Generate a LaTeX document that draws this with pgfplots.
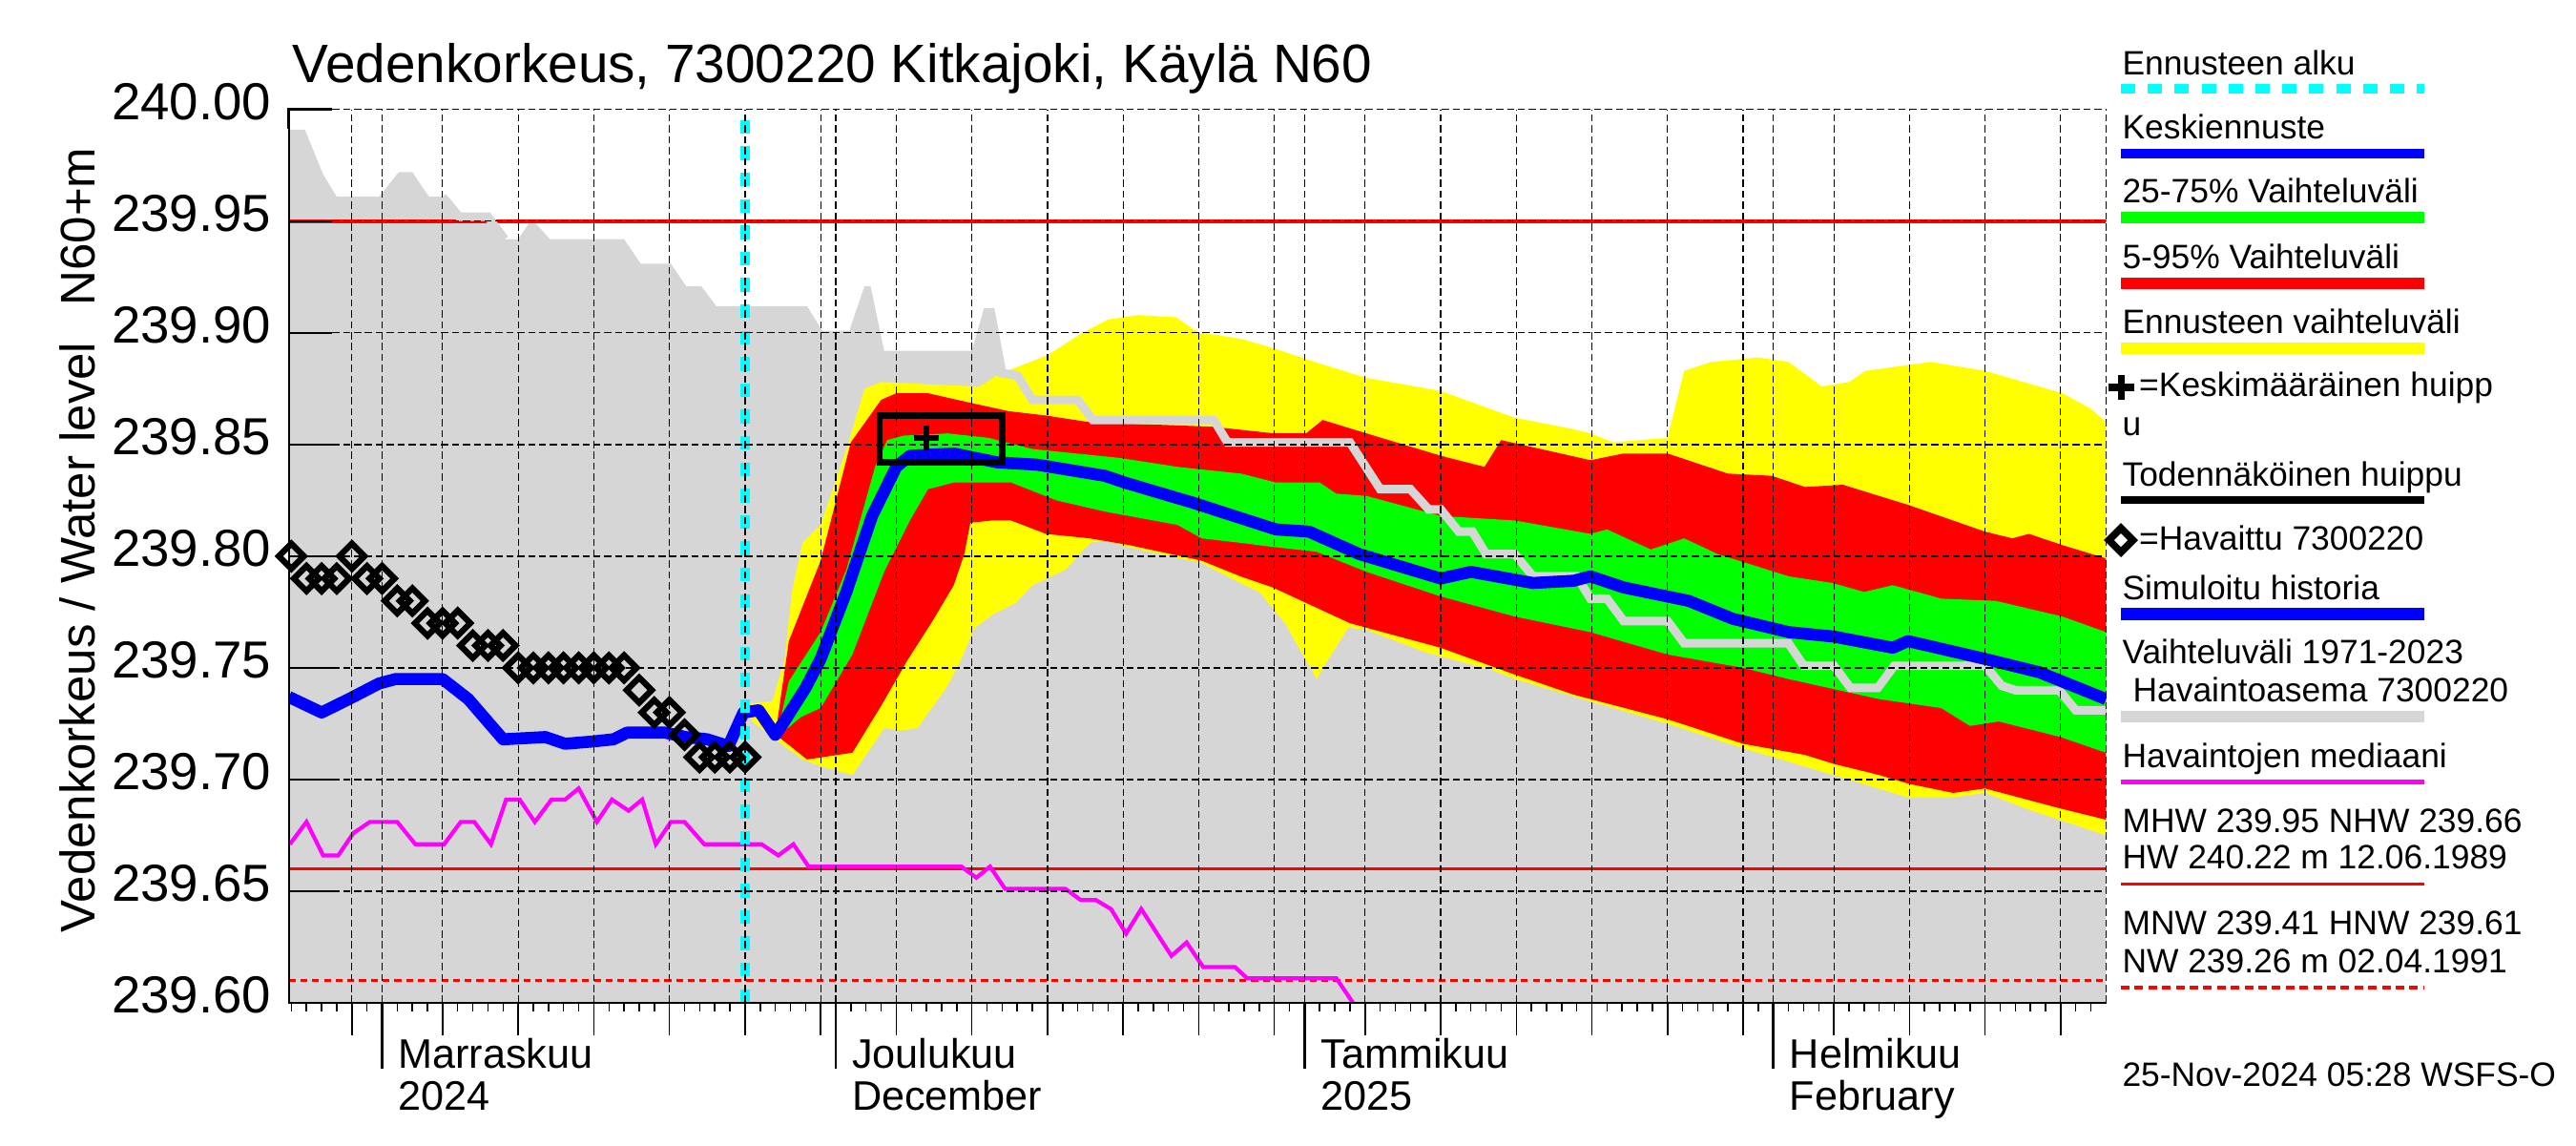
\documentclass[border=0pt]{standalone}
\usepackage{fontspec}
\setmainfont{Liberation Sans}
\usepackage{pgfplots}
\pgfplotsset{compat=1.18}

\definecolor{bandgray}{RGB}{214,214,214}
\definecolor{fcyellow}{RGB}{255,255,0}
\definecolor{fcred}{RGB}{255,0,0}
\definecolor{fcgreen}{RGB}{0,255,0}
\definecolor{fcblue}{RGB}{0,0,255}
\definecolor{fccyan}{RGB}{0,255,255}
\definecolor{medmag}{RGB}{255,0,255}

\newcommand{\legfont}{\fontsize{11.8}{13.4}\selectfont}
\newcommand{\monthfont}{\fontsize{14.4}{16}\selectfont}

\begin{document}
\begin{tikzpicture}
\useasboundingbox (0,0) rectangle (900pt,400pt);

% days counted from 1 Nov 2024
\begin{axis}[
    at={(100.9pt,49.7pt)}, anchor=south west,
    scale only axis, width=634.9pt, height=312pt,
    xmin=-6.17, xmax=114, ymin=239.6, ymax=240,
    axis on top,
    axis line style={draw=none},
    xtick={-2,0,4,9,14,19,24,29,30,34,39,44,49,54,59,61,65,70,75,80,85,90,92,96,101,106,111,114},
    xticklabels={},
    xtick style={draw=none},
    ytick={239.6,239.65,239.7,239.75,239.8,239.85,239.9,239.95,240},
    yticklabels={239.60,239.65,239.70,239.75,239.80,239.85,239.90,239.95,240.00},
    ytick pos=left, tick align=inside, major tick length=15pt,
    ytick style={black, line width=0.6pt},
    grid=major,
    major grid style={black, line width=0.4pt, dash pattern=on 2.5pt off 1.3pt},
    yticklabel style={font=\fontsize{18.2}{20}\selectfont, inner sep=0pt, xshift=-6pt, yshift=2.7pt},
]

% Vaihteluvali 1971-2023: upper edge, filled down to the axis
\addplot[fill=bandgray, draw=none] coordinates {
(-6.17,239.991) (-5.1,239.991) (-3.9,239.971) (-3.0,239.961) (-0.2,239.961)
(1.1,239.972) (2.0,239.972) (3.1,239.961) (4.0,239.961) (5.1,239.952) (7.0,239.952)
(8.1,239.942) (9.0,239.942) (9.9,239.951) (11.1,239.942) (16.0,239.942) (17.1,239.931)
(19.1,239.931) (20.1,239.921) (21.1,239.921) (22.1,239.912) (28.1,239.912) (29.1,239.901)
(30.9,239.901) (31.9,239.921) (32.3,239.921) (33.2,239.892) (39.0,239.892) (39.8,239.911)
(40.2,239.911) (41.0,239.882) (42.0,239.881) (43.0,239.870) (46.0,239.870) (47.0,239.861)
(55.0,239.861) (55.9,239.851) (64.0,239.851) (66.0,239.830) (68.0,239.830) (69.2,239.821)
(70.0,239.821) (71.2,239.811) (72.1,239.811) (73.0,239.801) (74.9,239.801) (76.1,239.791)
(79.0,239.791) (79.9,239.781) (81.0,239.781) (82.1,239.771) (85.0,239.771) (86.1,239.761)
(93.0,239.761) (94.0,239.751) (96.0,239.751) (97.1,239.741) (98.9,239.741) (100.0,239.751)
(106.0,239.751) (107.1,239.742) (108.0,239.740) (110.9,239.740) (112.0,239.731) (114.0,239.731)
(114.0,239.6) (-6.17,239.6)
};

% reference levels
\addplot[fcred, line width=1.1pt] coordinates {(-6.17,239.95) (114,239.95)};
\addplot[fcred, line width=1.1pt] coordinates {(-6.17,239.66) (114,239.66)};
\addplot[fcred, line width=1.1pt, dash pattern=on 2.4pt off 1.7pt] coordinates {(-6.17,239.61) (114,239.61)};

% Havaintojen mediaani
\addplot[medmag, line width=1.4pt] coordinates {
(-6.1,239.671) (-5.0,239.681) (-3.9,239.666) (-2.9,239.666) (-1.9,239.676) (-0.8,239.681)
(1.0,239.681) (2.2,239.671) (4.1,239.671) (5.2,239.681) (6.1,239.681) (7.2,239.671)
(8.2,239.691) (9.1,239.691) (10.1,239.681) (11.2,239.691) (12.1,239.691) (13.0,239.696)
(14.2,239.681) (15.2,239.691) (16.3,239.686) (17.2,239.691) (18.1,239.671) (19.1,239.681)
(20.0,239.681) (21.3,239.671) (25.1,239.671) (26.2,239.666) (27.2,239.671) (28.2,239.661)
(38.3,239.661) (39.3,239.656) (40.2,239.661) (41.2,239.651) (45.2,239.651) (46.2,239.646)
(47.2,239.646) (48.2,239.642) (49.2,239.631) (50.2,239.642) (52.2,239.621) (53.2,239.627)
(54.3,239.616) (56.4,239.616) (57.2,239.611) (63.1,239.611) (64.2,239.600) (64.5,239.595)
};

% Ennusteen vaihteluvali: upper edge, then lower edge backwards
\addplot[fill=fcyellow, draw=none] coordinates {
(24.2,239.730) (24.3,239.734) (25.8,239.735) (26.6,239.753) (27.1,239.784) (27.8,239.806)
(29.0,239.814) (30.8,239.850) (31.9,239.875) (33.0,239.878) (36.0,239.877) (39.5,239.876)
(40.9,239.882) (42.1,239.885) (44.0,239.890) (46.3,239.900) (48.0,239.906) (50.0,239.908)
(52.5,239.907) (54.0,239.900) (55.3,239.899) (57.0,239.897) (59.0,239.893) (61.2,239.888)
(65.0,239.880) (70.0,239.874) (74.9,239.862) (78.7,239.857) (79.9,239.855) (81.4,239.851)
(85.0,239.853) (86.1,239.883) (87.9,239.887) (91.0,239.889) (93.0,239.887) (95.2,239.876)
(97.0,239.878) (98.1,239.883) (102.4,239.887) (106.0,239.883) (111.1,239.873) (113.0,239.866)
(114.0,239.860)
(114.0,239.675) (109.1,239.686) (106.0,239.694) (103.9,239.692) (100.9,239.692) (96.0,239.702)
(90.0,239.714) (85.0,239.725) (79.9,239.735) (74.9,239.745) (73.4,239.749) (69.0,239.757)
(65.1,239.767) (63.9,239.768) (62.4,239.752) (61.8,239.745) (59.7,239.770) (58.0,239.784)
(56.75,239.788) (54.2,239.797) (49.4,239.804) (47.8,239.807) (46.8,239.806) (45.2,239.794)
(43.0,239.787) (41.9,239.779) (40.4,239.774) (39.2,239.768) (38.1,239.751) (37.3,239.741)
(35.4,239.723) (34.3,239.722) (33.2,239.723) (31.1,239.702) (29.0,239.706) (27.8,239.709)
(25.8,239.719) (24.5,239.726) (24.2,239.730)
};

% 5-95 %
\addplot[fill=fcred, draw=none] coordinates {
(24.2,239.730) (25.2,239.729) (26.05,239.722) (26.9,239.762) (29.0,239.798) (31.0,239.851)
(33.0,239.870) (34.0,239.873) (36.1,239.873) (38.7,239.869) (41.4,239.865) (43.9,239.863)
(46.8,239.860) (54.9,239.858) (59.0,239.855) (61.1,239.855) (62.2,239.861) (65.1,239.855)
(70.0,239.845) (72.9,239.840) (74.0,239.852) (79.9,239.843) (82.1,239.846) (85.0,239.846)
(89.0,239.837) (91.9,239.836) (94.1,239.831) (96.6,239.832) (100.9,239.823) (106.0,239.811)
(107.8,239.808) (108.9,239.810) (111.1,239.805) (114.0,239.799)
(114.0,239.682) (111.0,239.687) (106.0,239.696) (103.9,239.694) (101.0,239.698) (99.0,239.702)
(96.0,239.707) (94.1,239.711) (90.0,239.716) (85.0,239.727) (78.8,239.738) (74.9,239.747)
(70.0,239.759) (64.0,239.770) (58.9,239.786) (56.75,239.791) (54.2,239.798) (49.4,239.805)
(46.8,239.808) (43.9,239.810) (41.6,239.816) (40.3,239.816) (38.9,239.815) (38.5,239.801)
(37.8,239.787) (36.4,239.771) (34.7,239.753) (33.0,239.733) (31.1,239.712) (28.1,239.709)
(26.05,239.720) (25.2,239.728) (24.2,239.730)
};

% 25-75 %
\addplot[fill=fcgreen, draw=none] coordinates {
(24.2,239.730) (25.2,239.729) (26.15,239.721) (26.9,239.744) (29.0,239.766) (30.7,239.794)
(32.6,239.840) (33.4,239.852) (34.5,239.854) (37.4,239.855) (40.1,239.853) (43.0,239.848)
(48.8,239.844) (52.6,239.840) (56.8,239.837) (59.1,239.833) (62.0,239.833) (63.1,239.828)
(65.1,239.827) (70.0,239.818) (74.9,239.816) (79.9,239.810) (81.0,239.812) (83.9,239.803)
(86.1,239.808) (88.3,239.801) (93.0,239.791) (95.9,239.788) (98.0,239.784) (99.9,239.787)
(103.1,239.781) (106.7,239.780) (111.1,239.773) (114.0,239.766)
(114.0,239.712) (111.0,239.719) (106.9,239.726) (105.0,239.724) (103.1,239.732) (99.0,239.736)
(93.0,239.745) (90.0,239.750) (85.0,239.756) (79.9,239.766) (74.9,239.773) (70.0,239.782)
(65.1,239.793) (61.8,239.802) (59.1,239.804) (56.75,239.806) (54.2,239.808) (52.6,239.814)
(47.8,239.820) (44.6,239.825) (41.6,239.833) (37.8,239.833) (36.1,239.830) (34.9,239.816)
(33.2,239.793) (31.1,239.756) (29.0,239.732) (27.7,239.728) (26.3,239.720) (25.2,239.728)
(24.2,239.730)
};

% upper edge of the historical range, over the bands
\addplot[bandgray, line width=3pt] coordinates {
(40.2,239.911) (41.0,239.882) (42.0,239.881) (43.0,239.870) (46.0,239.870) (47.0,239.861)
(55.0,239.861) (55.9,239.851) (64.0,239.851) (66.0,239.830) (68.0,239.830) (69.2,239.821)
(70.0,239.821) (71.2,239.811) (72.1,239.811) (73.0,239.801) (74.9,239.801) (76.1,239.791)
(79.0,239.791) (79.9,239.781) (81.0,239.781) (82.1,239.771) (85.0,239.771) (86.1,239.761)
(93.0,239.761) (94.0,239.751) (96.0,239.751) (97.1,239.741) (98.9,239.741) (100.0,239.751)
(106.0,239.751) (107.1,239.742) (108.0,239.740) (110.9,239.740) (112.0,239.731) (114.0,239.731)
};
\addplot[bandgray, line width=3pt] coordinates {
(4.0,239.961) (5.1,239.952) (7.0,239.952) (8.1,239.942)
};

% Simuloitu historia + Keskiennuste
\addplot[fcblue, line width=4.2pt, line join=round] coordinates {
(-6.17,239.737) (-4.0,239.730) (-2.2,239.736) (-0.2,239.743) (0.9,239.745) (4.0,239.745)
(5.7,239.736) (8.0,239.718) (10.8,239.719) (12.1,239.716) (13.9,239.717) (15.3,239.718)
(16.2,239.721) (18.7,239.721) (20.1,239.719) (21.5,239.718) (22.9,239.715) (23.9,239.730)
(24.9,239.731) (26.0,239.720) (26.5,239.725) (28.0,239.741) (29.0,239.754) (30.7,239.784)
(32.4,239.818) (34.0,239.840) (34.9,239.845) (37.8,239.846) (40.7,239.842) (43.3,239.841)
(47.8,239.836) (49.1,239.833) (53.6,239.824) (59.1,239.812) (61.3,239.811) (64.6,239.801)
(70.0,239.790) (72.0,239.793) (76.1,239.788) (78.8,239.789) (79.9,239.791) (82.1,239.786)
(86.4,239.780) (89.3,239.772) (93.0,239.766) (96.0,239.764) (99.9,239.759) (100.9,239.762)
(106.0,239.754) (109.6,239.748) (114.0,239.736)
};

% Ennusteen alku
\addplot[fccyan, line width=3.2pt, dash pattern=on 4.8pt off 4.4pt] coordinates {(24,239.6) (24,240)};

% Havaittu
\addplot[only marks, mark=square, mark size=3.1pt,
    mark options={solid, draw=black, fill=none, line width=2.1pt, rotate=45}] coordinates {
(-6,239.80) (-5,239.79) (-4,239.79) (-3,239.79) (-2,239.80) (-1,239.79) (0,239.79)
(1,239.78) (2,239.78) (3,239.77) (4,239.77) (5,239.77) (6,239.76) (7,239.76) (8,239.76)
(9,239.75) (10,239.75) (11,239.75) (12,239.75) (13,239.75) (14,239.75) (15,239.75) (16,239.75)
(17,239.74) (18,239.73) (19,239.73) (20,239.72) (21,239.71) (22,239.71) (23,239.71) (24,239.71)
};

% Todennakoinen huippu and Keskimaarainen huippu
\addplot[black, line width=2.3pt, line join=miter] coordinates {(32.9,239.842) (41.0,239.842) (41.0,239.863) (32.9,239.863) (32.9,239.8406)};
\addplot[only marks, mark=+, mark size=4.4pt, mark options={black, line width=2pt}] coordinates {(36,239.853)};
\end{axis}

% ticks below the time axis
\begin{axis}[
    at={(100.9pt,49.7pt)}, anchor=south west,
    scale only axis, width=634.9pt, height=312pt,
    xmin=-6.17, xmax=114, ymin=239.6, ymax=240,
    axis line style={draw=none},
    ytick=\empty,
    xtick={-2,4,9,14,19,24,29,34,39,44,49,54,59,65,70,75,80,85,90,96,101,106,111},
    minor xtick={-6,-5,...,113},
    xticklabels={},
    tick align=outside, xtick pos=bottom,
    major tick length=11.3pt, minor tick length=3pt,
    xtick style={black, line width=0.5pt},
    extra x ticks={0,30,61,92}, extra x tick labels={},
    extra x tick style={major tick length=23pt, xtick style={line width=0.9pt}},
]
\addplot[draw=none] coordinates {(0,239.7) (10,239.8)};
\end{axis}

% left and bottom frame
\draw[black, line width=0.6pt] (100.9pt,361.7pt) -- (100.9pt,49.7pt) -- (735.8pt,49.7pt);
\draw[black, line width=1pt] (100.9pt,355pt) -- (100.9pt,361.7pt) -- (115.9pt,361.7pt);

% title and axis texts
\node[anchor=base west, inner sep=0pt, font=\fontsize{18.9}{20}\selectfont] at (102pt,371.3pt) {Vedenkorkeus, 7300220 Kitkajoki, Käylä N60};
\node[anchor=base, rotate=90, inner sep=0pt, font=\fontsize{17}{19}\selectfont] at (33pt,177.3pt) {Vedenkorkeus / Water level};
\node[anchor=base, rotate=90, inner sep=0pt, font=\fontsize{17}{19}\selectfont] at (33pt,320.8pt) {N60+m};

\begin{scope}[every node/.style={anchor=base west, inner sep=0pt, font=\monthfont}]
\node at (139pt,26.7pt) {Marraskuu}; \node at (139pt,12.3pt) {2024};
\node at (297.5pt,26.7pt) {Joulukuu}; \node at (297.5pt,12.3pt) {December};
\node at (461.3pt,26.7pt) {Tammikuu}; \node at (461.3pt,12.3pt) {2025};
\node at (625.1pt,26.7pt) {Helmikuu}; \node at (625.1pt,12.3pt) {February};
\end{scope}

% legend
\begin{scope}[every node/.style={anchor=base west, inner sep=0pt, font=\legfont}]
\node at (741.3pt,373.8pt) {Ennusteen alku};
\draw[fccyan, line width=3.2pt, dash pattern=on 5pt off 4.4pt] (741pt,369pt) -- (847pt,369pt);
\node at (741.3pt,351.5pt) {Keskiennuste};
\draw[fcblue, line width=3.6pt] (741pt,346.3pt) -- (847pt,346.3pt);
\node at (741.3pt,329.1pt) {25-75\% Vaihteluväli};
\draw[fcgreen, line width=4pt] (741pt,324pt) -- (847pt,324pt);
\node at (741.3pt,306.1pt) {5-95\% Vaihteluväli};
\draw[fcred, line width=4pt] (741pt,301pt) -- (847pt,301pt);
\node at (741.3pt,283.5pt) {Ennusteen vaihteluväli};
\draw[fcyellow, line width=4.2pt] (741pt,278.4pt) -- (847pt,278.4pt);
\draw[black, line width=2.4pt] (736.8pt,264.7pt) -- (745.6pt,264.7pt) (741.2pt,260.3pt) -- (741.2pt,269.1pt);
\node at (747.2pt,261.4pt) {=Keskimääräinen huipp};
\node at (741.3pt,248pt) {u};
\node at (741.3pt,230.1pt) {Todennäköinen huippu};
\draw[black, line width=2.8pt] (741pt,225.3pt) -- (847pt,225.3pt);
\draw[black, line width=2.5pt] (741pt,215.5pt) -- (745.2pt,211.3pt) -- (741pt,207.1pt) -- (736.8pt,211.3pt) -- cycle;
\node at (747.2pt,207.8pt) {=Havaittu 7300220};
\node at (741.3pt,190.4pt) {Simuloitu historia};
\draw[fcblue, line width=4.2pt] (741pt,185.6pt) -- (847pt,185.6pt);
\node at (741.3pt,168.1pt) {Vaihteluväli 1971-2023};
\node at (745pt,154.7pt) {Havaintoasema 7300220};
\draw[bandgray, line width=4pt] (741pt,149.6pt) -- (847pt,149.6pt);
\node at (741.3pt,131.7pt) {Havaintojen mediaani};
\draw[medmag, line width=1.6pt] (741pt,126.8pt) -- (847pt,126.8pt);
\node at (741.3pt,109.3pt) {MHW 239.95 NHW 239.66};
\node at (741.3pt,96.6pt) {HW 240.22 m 12.06.1989};
\draw[fcred, line width=1.1pt] (741pt,91.2pt) -- (847pt,91.2pt);
\node at (741.3pt,73.6pt) {MNW 239.41 HNW 239.61};
\node at (741.3pt,60.2pt) {NW 239.26 m 02.04.1991};
\draw[fcred, line width=1.1pt, dash pattern=on 3pt off 1.8pt] (741pt,55pt) -- (847pt,55pt);
\node at (741.3pt,20.6pt) {25-Nov-2024 05:28 WSFS-O};
\end{scope}
\end{tikzpicture}
\end{document}
